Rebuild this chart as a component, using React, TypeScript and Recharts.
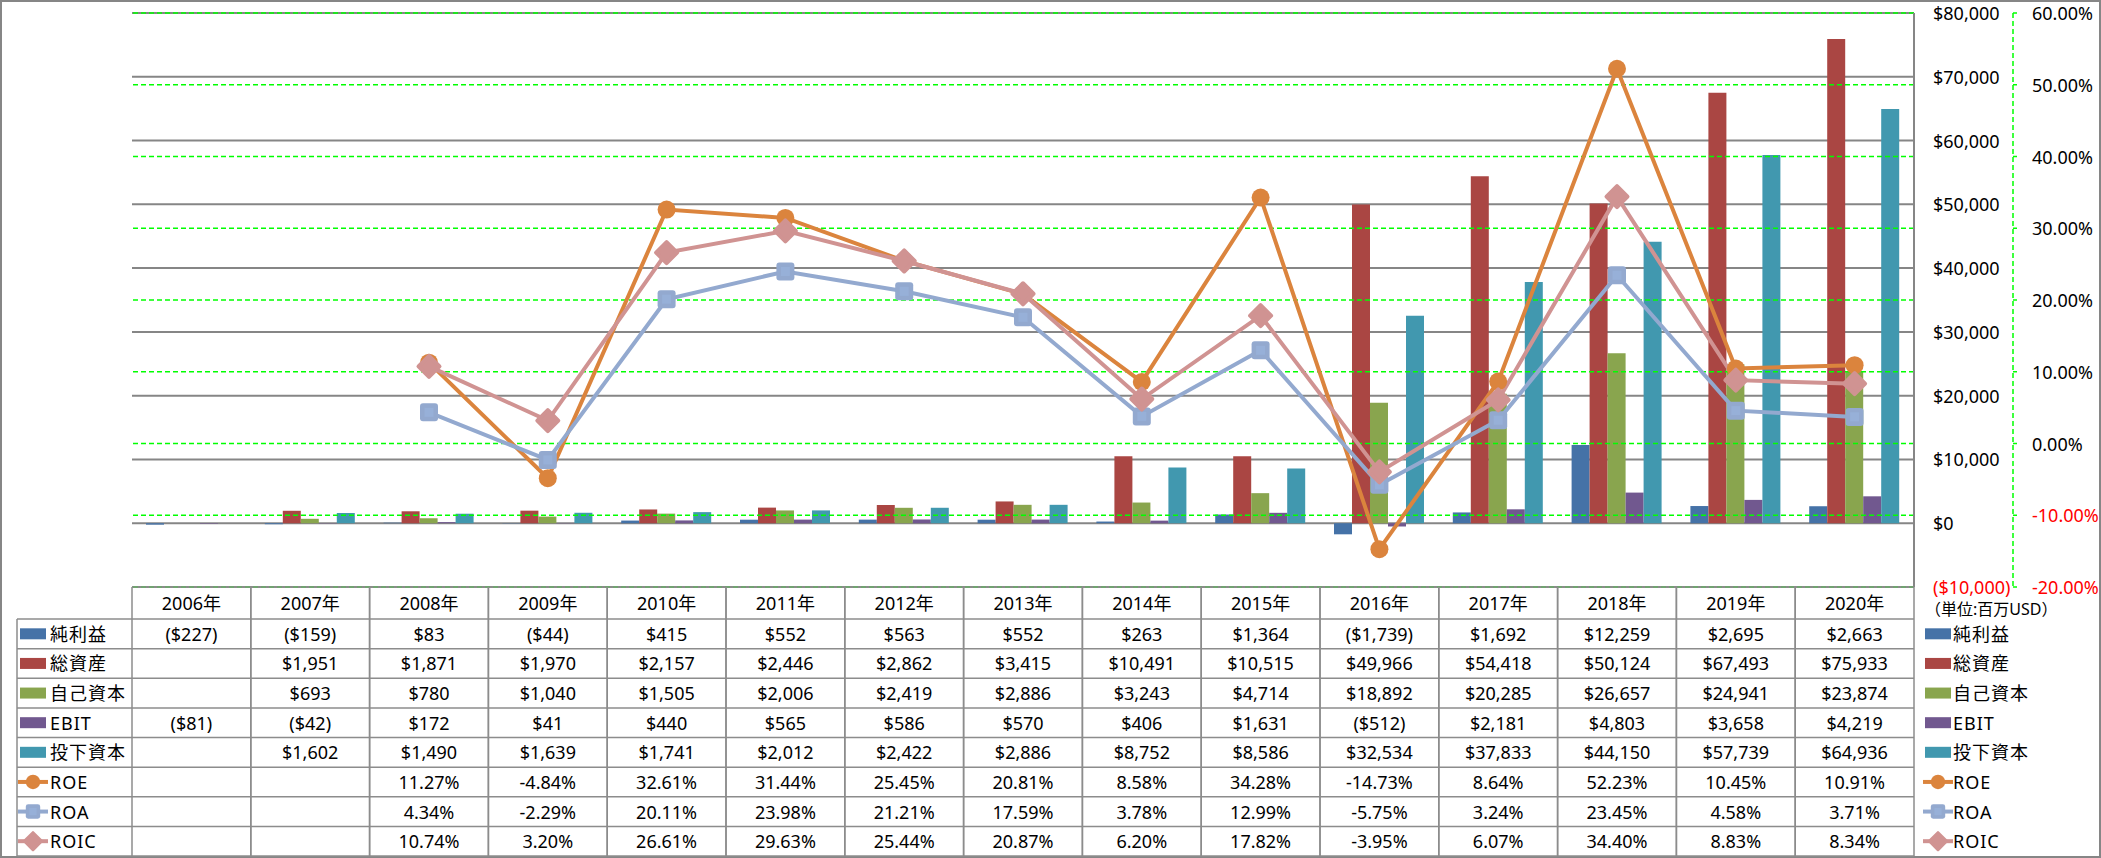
import React from 'react';
import { ComposedChart, Bar, Line, XAxis, YAxis, CartesianGrid, ReferenceLine } from 'recharts';

// 単位: 百万USD / %
const years = ['2006年', '2007年', '2008年', '2009年', '2010年', '2011年', '2012年', '2013年', '2014年', '2015年', '2016年', '2017年', '2018年', '2019年', '2020年'];
const netIncome = [-227, -159, 83, -44, 415, 552, 563, 552, 263, 1364, -1739, 1692, 12259, 2695, 2663];
const totalAssets = [null, 1951, 1871, 1970, 2157, 2446, 2862, 3415, 10491, 10515, 49966, 54418, 50124, 67493, 75933];
const equity = [null, 693, 780, 1040, 1505, 2006, 2419, 2886, 3243, 4714, 18892, 20285, 26657, 24941, 23874];
const ebit = [-81, -42, 172, 41, 440, 565, 586, 570, 406, 1631, -512, 2181, 4803, 3658, 4219];
const investedCapital = [null, 1602, 1490, 1639, 1741, 2012, 2422, 2886, 8752, 8586, 32534, 37833, 44150, 57739, 64936];
const roe = [null, null, 11.27, -4.84, 32.61, 31.44, 25.45, 20.81, 8.58, 34.28, -14.73, 8.64, 52.23, 10.45, 10.91];
const roa = [null, null, 4.34, -2.29, 20.11, 23.98, 21.21, 17.59, 3.78, 12.99, -5.75, 3.24, 23.45, 4.58, 3.71];
const roic = [null, null, 10.74, 3.2, 26.61, 29.63, 25.44, 20.87, 6.2, 17.82, -3.95, 6.07, 34.4, 8.83, 8.34];

const usdTicks = [-10000, 0, 10000, 20000, 30000, 40000, 50000, 60000, 70000, 80000];
const pctTicks = [-20, -10, 0, 10, 20, 30, 40, 50, 60];
const unitLabel = '（単位:百万USD）';

const FONT = '"Noto Sans", "Noto Sans CJK JP", sans-serif';
const W = 2101;
const H = 858;
const PLOT_L = 132;
const PLOT_R = 1914;
const PLOT_T = 13;
const PLOT_B = 587;
const HEAD_B = 619;
const TABLE_B = 856;
const ROW_H = (TABLE_B - HEAD_B) / 8;
const USD_W = 99;
const GRID = '#868686';
const TABLE_LINE = '#8c8c8c';
const GREEN = '#00FF00';

const C = {
  net: '#4572A7',
  assets: '#AA4643',
  equity: '#89A54E',
  ebit: '#71588F',
  invested: '#4198AF',
  roe: '#DB843D',
  roa: '#93A9CF',
  roic: '#D09392',
};

const usd = (v: number) => {
  const s = '$' + Math.abs(v).toLocaleString('en-US');
  return v < 0 ? `(${s})` : s;
};
const pct = (v: number) => v.toFixed(2) + '%';

type Row = { name: string; values: (number | null)[]; color: string; kind: 'bar' | 'roe' | 'roa' | 'roic'; fmt: (v: number) => string };
const rows: Row[] = [
  { name: '純利益', values: netIncome, color: C.net, kind: 'bar', fmt: usd },
  { name: '総資産', values: totalAssets, color: C.assets, kind: 'bar', fmt: usd },
  { name: '自己資本', values: equity, color: C.equity, kind: 'bar', fmt: usd },
  { name: 'EBIT', values: ebit, color: C.ebit, kind: 'bar', fmt: usd },
  { name: '投下資本', values: investedCapital, color: C.invested, kind: 'bar', fmt: usd },
  { name: 'ROE', values: roe, color: C.roe, kind: 'roe', fmt: pct },
  { name: 'ROA', values: roa, color: C.roa, kind: 'roa', fmt: pct },
  { name: 'ROIC', values: roic, color: C.roic, kind: 'roic', fmt: pct },
];

const data = years.map((y, i) => ({
  year: y,
  net: netIncome[i],
  assets: totalAssets[i],
  equity: equity[i],
  ebit: ebit[i],
  invested: investedCapital[i],
  roe: roe[i],
  roa: roa[i],
  roic: roic[i],
}));

function Marker({ kind, cx, cy, scale = 1 }: { kind: string; cx: number; cy: number; scale?: number }) {
  if (kind === 'roe') return <circle cx={cx} cy={cy} r={9 * scale} fill={C.roe} />;
  if (kind === 'roa') {
    const s = 9 * scale;
    return (
      <g>
        <rect x={cx - s} y={cy - s} width={2 * s} height={2 * s} rx={3 * scale} fill={C.roa} />
        <rect x={cx - s / 2} y={cy - s / 2} width={s} height={s} fill="#97B0D8" />
      </g>
    );
  }
  const d = 10.5 * scale;
  return (
    <path
      d={`M${cx},${cy - d}L${cx + d},${cy}L${cx},${cy + d}L${cx - d},${cy}Z`}
      fill={C.roic}
      stroke={C.roic}
      strokeWidth={4 * scale}
      strokeLinejoin="round"
    />
  );
}

const dotFor = (kind: string) => (p: any) => {
  if (p.cy == null || p.value == null) return <g key={`${kind}-${p.index}`} />;
  return (
    <g key={`${kind}-${p.index}`}>
      <Marker kind={kind} cx={p.cx} cy={p.cy} />
    </g>
  );
};

function UsdTick(props: any) {
  const { x, y, payload } = props;
  const v = payload.value as number;
  return (
    <text x={x} y={y} textAnchor="start" dominantBaseline="central" fontSize={18} fontFamily={FONT} fill={v < 0 ? '#FF0000' : '#000'}>
      {usd(v)}
    </text>
  );
}

function PctTick(props: any) {
  const { x, y, payload } = props;
  const v = payload.value as number;
  return (
    <text x={x} y={y} textAnchor="start" dominantBaseline="central" fontSize={18} fontFamily={FONT} fill={v < 0 ? '#FF0000' : '#000'}>
      {pct(v)}
    </text>
  );
}

// データテーブルの1列（カテゴリ軸の目盛として描画）
function TableColumn(props: any) {
  const { x, payload } = props;
  const i = payload.index;
  const bw = (PLOT_R - PLOT_L) / years.length;
  return (
    <g fontFamily={FONT} fontSize={18}>
      <line x1={x - bw / 2} x2={x - bw / 2} y1={PLOT_B} y2={TABLE_B} stroke={TABLE_LINE} strokeWidth={1.5} />
      <line x1={x + bw / 2} x2={x + bw / 2} y1={PLOT_B} y2={TABLE_B} stroke={TABLE_LINE} strokeWidth={1.5} />
      <text x={x} y={(PLOT_B + HEAD_B) / 2} textAnchor="middle" dominantBaseline="central" fill="#000">
        {payload.value}
      </text>
      {rows.map((r, k) => {
        const v = r.values[i];
        if (v == null) return null;
        return (
          <text key={k} x={x} y={HEAD_B + ROW_H * (k + 0.5)} textAnchor="middle" dominantBaseline="central" fill="#000">
            {r.fmt(v)}
          </text>
        );
      })}
    </g>
  );
}

function LegendKey({ row, x, cy }: { row: Row; x: number; cy: number }) {
  if (row.kind === 'bar') return <rect x={x} y={cy - 5.5} width={26} height={11} fill={row.color} />;
  return (
    <g>
      <line x1={x - 2} x2={x + 28} y1={cy} y2={cy} stroke={row.color} strokeWidth={4} />
      <Marker kind={row.kind} cx={x + 13} cy={cy} scale={0.8} />
    </g>
  );
}

function TableOverlay() {
  const axX = PLOT_R + USD_W;
  return (
    <svg width={W} height={H} style={{ position: 'absolute', left: 0, top: 0, pointerEvents: 'none' }}>
      <rect x={1} y={1} width={W - 2} height={H - 2} fill="none" stroke={GRID} strokeWidth={2} />
      <line x1={axX} x2={axX} y1={PLOT_T} y2={PLOT_B} stroke={GREEN} strokeWidth={1.5} strokeDasharray="5 3" />
      <line x1={17} x2={17} y1={HEAD_B} y2={TABLE_B} stroke={TABLE_LINE} strokeWidth={1.5} />
      {Array.from({ length: 9 }, (_, k) => (
        <line key={k} x1={17} x2={PLOT_R} y1={HEAD_B + ROW_H * k} y2={HEAD_B + ROW_H * k} stroke={TABLE_LINE} strokeWidth={1.5} />
      ))}
      <text x={1925} y={609} fontSize={16} fontFamily={FONT} dominantBaseline="central" fill="#000">
        {unitLabel}
      </text>
      {rows.map((r, k) => {
        const cy = HEAD_B + ROW_H * (k + 0.5);
        return (
          <g key={r.name} fontFamily={FONT} fontSize={18} fill="#000">
            <LegendKey row={r} x={20} cy={cy} />
            <text x={50} y={cy} dominantBaseline="central" letterSpacing={1}>{r.name}</text>
            <LegendKey row={r} x={1925} cy={cy} />
            <text x={1953} y={cy} dominantBaseline="central" letterSpacing={1}>{r.name}</text>
          </g>
        );
      })}
    </svg>
  );
}

export default function App() {
  return (
    <div style={{ position: 'absolute', left: 0, top: 0, width: W, height: H, background: '#fff', fontFamily: FONT }}>
      <ComposedChart
        width={W}
        height={H}
        data={data}
        margin={{ top: PLOT_T, right: 0, bottom: H - TABLE_B, left: PLOT_L }}
        barCategoryGap={14}
        barGap={0}
      >
        <CartesianGrid yAxisId="a" vertical={false} horizontal stroke={GRID} strokeWidth={2} />
        {pctTicks.map((t) => (
          <ReferenceLine key={t} yAxisId="b" y={t} stroke={GREEN} strokeWidth={1.5} strokeDasharray="5 3" />
        ))}
        <XAxis
          dataKey="year"
          interval={0}
          height={TABLE_B - PLOT_B}
          tickSize={0}
          tickMargin={0}
          tickLine={false}
          axisLine={{ stroke: TABLE_LINE, strokeWidth: 1.5 }}
          tick={<TableColumn />}
        />
        <YAxis
          yAxisId="a"
          orientation="right"
          domain={[-10000, 80000]}
          ticks={usdTicks}
          width={USD_W}
          tickSize={0}
          tickMargin={19}
          tickLine={false}
          axisLine={{ stroke: GRID, strokeWidth: 2 }}
          tick={<UsdTick />}
        />
        <YAxis
          yAxisId="b"
          orientation="right"
          domain={[-20, 60]}
          ticks={pctTicks}
          width={W - PLOT_R - USD_W}
          tickSize={4}
          tickMargin={15}
          tickLine={{ stroke: GREEN, strokeWidth: 1.5 }}
          axisLine={false}
          tick={<PctTick />}
        />
        <Bar yAxisId="a" dataKey="net" fill={C.net} isAnimationActive={false} />
        <Bar yAxisId="a" dataKey="assets" fill={C.assets} isAnimationActive={false} />
        <Bar yAxisId="a" dataKey="equity" fill={C.equity} isAnimationActive={false} />
        <Bar yAxisId="a" dataKey="ebit" fill={C.ebit} isAnimationActive={false} />
        <Bar yAxisId="a" dataKey="invested" fill={C.invested} isAnimationActive={false} />
        <Line yAxisId="b" dataKey="roe" stroke={C.roe} strokeWidth={4} dot={dotFor('roe')} activeDot={false} isAnimationActive={false} />
        <Line yAxisId="b" dataKey="roa" stroke={C.roa} strokeWidth={4} dot={dotFor('roa')} activeDot={false} isAnimationActive={false} />
        <Line yAxisId="b" dataKey="roic" stroke={C.roic} strokeWidth={4} dot={dotFor('roic')} activeDot={false} isAnimationActive={false} />
      </ComposedChart>
      <TableOverlay />
    </div>
  );
}
